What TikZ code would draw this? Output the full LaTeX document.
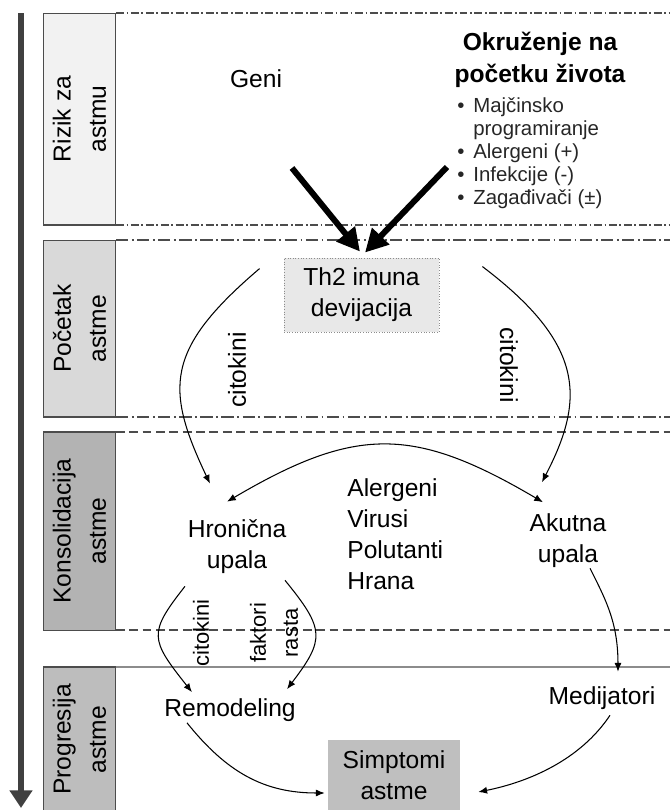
\documentclass[tikz,border=0pt]{standalone}
\usepackage{fontspec}
\setmainfont{Liberation Sans}
\usetikzlibrary{arrows.meta}
\definecolor{rizikfill}{HTML}{F2F2F2}
\definecolor{pocetakfill}{HTML}{D9D9D9}
\definecolor{konsolfill}{HTML}{B3B3B3}
\definecolor{progresfill}{HTML}{BDBDBD}
\definecolor{th2fill}{HTML}{E8E8E8}
\definecolor{simpfill}{HTML}{BFBFBF}
\newcommand{\bulitem}{\makebox[9.1pt][l]{\textbullet}}
\begin{document}
\begin{tikzpicture}[scale=0.2]
    \tikzstyle{every node}+=[inner sep=0pt]
    \tikzstyle{stagebox}=[draw=black!70, line width=0.6pt, rotate=90, align=center, minimum height=41.5pt, font=\fontsize{14}{20}\selectfont]
    \tikzstyle{bigtext}=[align=center, font=\fontsize{14}{17.6}\selectfont]
    \tikzstyle{sidetext}=[align=center, font=\fontsize{12.5}{18.2}\selectfont]
    \tikzstyle{thinarrow}=[black, line width=0.6pt, -{Latex[length=5pt,width=4pt]}]
    \tikzstyle{thinboth}=[black, line width=0.6pt, {Latex[length=5pt,width=4pt]}-{Latex[length=5pt,width=4pt]}]
    \tikzstyle{fatarrow}=[black, line width=3.4pt, -{Triangle[length=13pt,width=13pt]}]
    \tikzstyle{sepshort}=[black!70, line width=0.6pt, dash pattern=on 4.5pt off 1.5pt on 1pt off 1.5pt]
    \tikzstyle{seplong}=[black!70, line width=0.6pt, dash pattern=on 7pt off 2pt on 1pt off 2pt]
    \tikzstyle{sepdash}=[black!70, line width=0.6pt, dash pattern=on 5pt off 2.6pt]
    \useasboundingbox (0,0) rectangle (67,-81);
    \draw [black!75, line width=3.4pt, -{Triangle[length=10pt,width=12.5pt]}] (2.1,-1.3) -- (2.1,-80.8);
    \node [stagebox, fill=rizikfill, minimum width=120.6pt] (rizik) at (7.95,-11.9) {Rizik za\\astmu};
    \node [stagebox, fill=pocetakfill, minimum width=100.7pt] (pocetak) at (7.95,-32.85) {Početak\\astme};
    \node [stagebox, fill=konsolfill, minimum width=112.7pt] (konsol) at (7.95,-53.1) {Konsolidacija\\astme};
    \node [stagebox, fill=progresfill, minimum width=82.5pt] (progres) at (7.95,-73.95) {Progresija\\astme};
    \draw [sepshort] (11.6,-1.3) -- (67,-1.3);
    \draw [sepshort] (11.6,-22.5) -- (67,-22.5);
    \draw [seplong] (11.6,-24.0) -- (67,-24.0);
    \draw [seplong] (11.6,-41.7) -- (67,-41.7);
    \draw [sepdash] (11.6,-43.2) -- (67,-43.2);
    \draw [sepdash] (11.6,-63.0) -- (67,-63.0);
    \draw [black!45, line width=0.6pt] (11.6,-66.7) -- (67,-66.7);
    \node [bigtext] (geni) at (25.6,-7.85) {Geni};
    \node [bigtext, font=\fontsize{14}{18.2}\selectfont\bfseries] (okruzenje) at (54.0,-5.95) {Okruženje na\\početku života};
    \node [align=left, anchor=west, text=black!85, font=\fontsize{11.6}{13.1}\selectfont] (rizfaktori) at (45.7,-15.35) {\bulitem Majčinsko\\\hspace*{9.1pt}programiranje\\\bulitem Alergeni (+)\\\bulitem Infekcije (-)\\\bulitem Zagađivači (±)};
    \node [bigtext, fill=th2fill, draw=black!45, densely dotted, line width=0.5pt, minimum width=88.2pt, minimum height=42.1pt] (th2) at (36.15,-29.5) {Th2 imuna\\devijacija};
    \node [bigtext] (hronicna) at (23.7,-54.7) {Hronična\\upala};
    \node [bigtext, align=left, anchor=west] (alergeni) at (34.7,-53.45) {Alergeni\\Virusi\\Polutanti\\Hrana};
    \node [bigtext] (akutna) at (56.8,-54.1) {Akutna\\upala};
    \node [bigtext] (remodeling) at (23.0,-71.0) {Remodeling};
    \node [bigtext] (medijatori) at (60.2,-69.85) {Medijatori};
    \node [bigtext, fill=simpfill, minimum width=75.1pt, minimum height=39.8pt] (simptomi) at (39.4,-77.5) {Simptomi\\astme};
    \node [bigtext, rotate=90] (citokinil) at (23.7,-37.0) {citokini};
    \node [bigtext, rotate=-90] (citokinid) at (50.9,-36.5) {citokini};
    \node [sidetext, rotate=90] (citokinir) at (20.1,-63.3) {citokini};
    \node [sidetext, rotate=90] (faktorirasta) at (27.4,-63.3) {faktori\\rasta};
    \coordinate (genisrc) at (29.2,-16.8);
    \coordinate (okrsrc) at (44.7,-16.7);
    \draw [fatarrow] (genisrc) -- ([shift={(-0.15,0.6)}]th2.north);
    \draw [fatarrow] (okrsrc) -- ([shift={(0.35,0.5)}]th2.north);
    \draw [thinarrow] ([shift={(-2.4,-1.1)}]th2.north west) .. controls +(-9.5,-8.1) and +(-4.5,9.5) .. ([shift={(-2.7,3.6)}]hronicna.north);
    \draw [thinarrow] ([shift={(4.3,-0.9)}]th2.north east) .. controls +(10.3,-7.8) and +(4.3,8.3) .. ([shift={(-2.6,3.15)}]akutna.north);
    \draw [thinboth] ([shift={(-1.0,1.8)}]hronicna.north) .. controls +(12.9,7.6) and +(-12.9,7.6) .. ([shift={(-2.5,1.15)}]akutna.north);
    \draw [thinarrow] ([shift={(-5.2,-1.2)}]hronicna.south) .. controls +(-3.7,-4.7) and +(-4.2,5.3) .. ([shift={(-3.8,0.6)}]remodeling.north);
    \draw [thinarrow] ([shift={(4.8,-0.6)}]hronicna.south) .. controls +(4.0,-4.9) and +(3.8,5.0) .. ([shift={(5.7,0.9)}]remodeling.north);
    \draw [thinarrow] ([shift={(2.2,0)}]akutna.south) .. controls +(1.5,-3.0) and +(0,5.0) .. ([shift={(1.6,1.5)}]medijatori.north);
    \draw [thinarrow] ([shift={(-4.3,-0.1)}]remodeling.south) .. controls +(4.0,-5.0) and +(-6.0,0) .. ([shift={(-0.3,-1.8)}]simptomi.west);
    \draw [thinarrow] ([shift={(0.8,-0.5)}]medijatori.south) .. controls +(-3.0,-4.5) and +(5.0,1.0) .. ([shift={(1.8,-1.7)}]simptomi.east);
\end{tikzpicture}
\end{document}
